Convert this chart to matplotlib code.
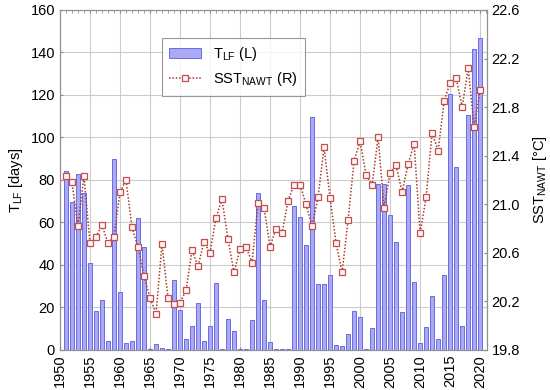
import matplotlib
matplotlib.use("Agg")
import matplotlib.pyplot as plt
import numpy as np
from matplotlib.ticker import MultipleLocator

plt.rcParams['font.family'] = ['Liberation Sans', 'DejaVu Sans']
plt.rcParams['mathtext.default'] = 'regular'

# data
years = list(range(1951, 2021))
t_lf = [84.3, 69.8, 82.8, 74, 41.1, 18.5, 23.5, 4.1, 90.0, 27.5,
        3.3, 4.2, 62.3, 48.6, 0.5, 2.7, 1.1, 0.5, 32.9, 18.8,
        5.0, 11.3, 22.3, 4.4, 11.3, 31.4, 0.3, 14.4, 9.1, 0.3,
        0.3, 14.1, 74.0, 23.5, 3.6, 0.6, 0.3, 0.5, 67.9, 62.4,
        49.4, 109.6, 30.9, 30.9, 35.1, 2.2, 1.9, 7.5, 18.4, 15.5,
        0.5, 10.2, 78.1, 78.1, 63.5, 50.7, 17.7, 77.6, 32.2, 3.5,
        11.0, 25.6, 5.0, 35.1, 120.3, 86.1, 11.5, 110.6, 141.5, 146.7]
sst = [21.23, 21.18, 20.82, 21.23, 20.68, 20.73, 20.83, 20.68, 20.73, 21.10,
       21.20, 20.81, 20.65, 20.41, 20.23, 20.10, 20.67, 20.23, 20.18, 20.19,
       20.29, 20.62, 20.49, 20.69, 20.60, 20.89, 21.04, 20.71, 20.44, 20.63,
       20.65, 20.52, 21.01, 20.97, 20.65, 20.80, 20.76, 21.03, 21.16, 21.16,
       21.00, 20.82, 21.06, 21.47, 21.05, 20.68, 20.44, 20.87, 21.36, 21.52,
       21.24, 21.16, 21.55, 20.97, 21.26, 21.32, 21.10, 21.33, 21.50, 20.76,
       21.06, 21.59, 21.44, 21.85, 22.00, 22.04, 21.80, 22.12, 21.64, 21.94]

fig = plt.figure(figsize=(5.5, 3.9), dpi=100)
ax = fig.add_axes([0.109, 0.1026, 0.776, 0.8718])

bars = ax.bar(years, t_lf, width=0.62, color='#aaaaf4', edgecolor='#6a6ae6',
              linewidth=0.7, label='T$_{LF}$ (L)', zorder=2)
ax.set_xlim(1950, 2021.1)
ax.set_ylim(0, 160)
ax.xaxis.set_major_locator(MultipleLocator(5))
ax.yaxis.set_major_locator(MultipleLocator(20))
ax.xaxis.set_minor_locator(MultipleLocator(1))
ax.grid(True, which='major', color='#cccccc', linewidth=0.8)
ax.set_axisbelow(True)
ax.tick_params(axis='x', labelrotation=90, labelsize=10.5, direction='in',
               length=2, color='#888888', top=True, which='both')
ax.tick_params(axis='x', which='minor', bottom=False, top=True, length=2)
ax.tick_params(axis='y', labelsize=10.5, direction='in', length=2, color='#888888')
ax.set_ylabel('T$_{LF}$ [days]', fontsize=10.5, labelpad=4)
for s in ax.spines.values():
    s.set_color('#909090')

ax2 = ax.twinx()
line, = ax2.plot(years, sst, linestyle=(0, (1, 1.2)), color='#a83a2c', linewidth=1.1,
                 marker='s', markersize=3.8, markerfacecolor='#fff5f5',
                 markeredgecolor='#c0504d', markeredgewidth=0.9,
                 label='SST$_{NAWT}$ (R)')
ax2.set_ylim(19.8, 22.6)
ax2.set_yticks(np.arange(19.8, 22.61, 0.4))
ax2.set_yticklabels(['%.1f' % v for v in np.arange(19.8, 22.61, 0.4)])
ax2.tick_params(axis='y', labelsize=10.5, direction='in', length=2, color='#888888')
ax2.set_ylabel('SST$_{NAWT}$ [°C]', fontsize=10.5, labelpad=8)
for s in ax2.spines.values():
    s.set_color('#909090')

leg = ax2.legend([bars, line], ['T$_{LF}$ (L)', 'SST$_{NAWT}$ (R)'],
                 loc='upper left', bbox_to_anchor=(0.222, 0.94),
                 fancybox=False, edgecolor='#808080', fontsize=10.5,
                 handlelength=2.2, borderpad=0.5)
leg.get_frame().set_linewidth(0.8)

fig.savefig('out.png', dpi=100)
